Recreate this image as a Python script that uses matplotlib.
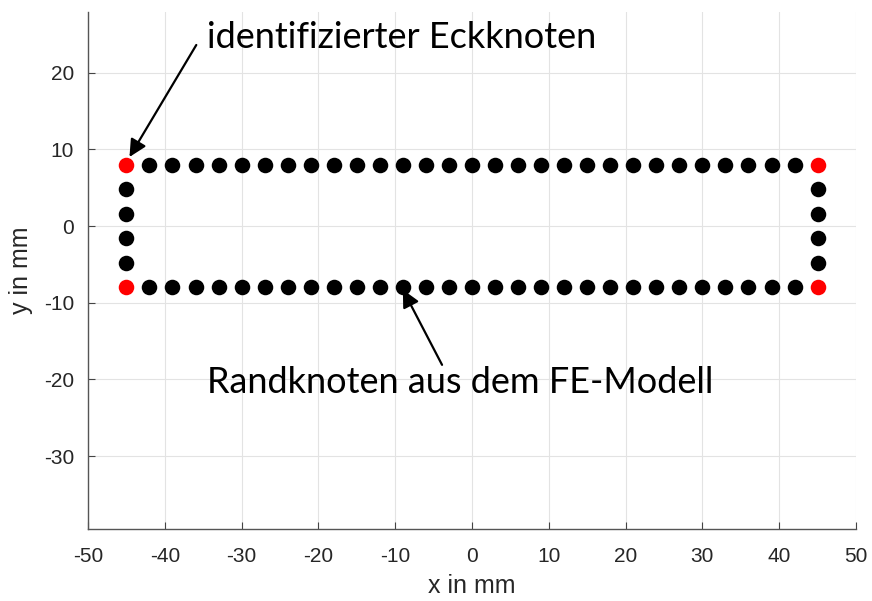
import matplotlib.pyplot as plt

plt.rcParams['axes.unicode_minus'] = False

# boundary nodes of the FE model (mm)
edge_x = [-42, -39, -36, -33, -30, -27, -24, -21, -18, -15, -12, -9, -6, -3, 0,
          3, 6, 9, 12, 15, 18, 21, 24, 27, 30, 33, 36, 39, 42]
side_y = [4.8, 1.6, -1.6, -4.8]
top_y = 8
bottom_y = -8
side_x = [-45, 45]

# identified corner nodes
corner_x = [-45, -45, 45, 45]
corner_y = [8, -8, 8, -8]

xticks = [-50, -40, -30, -20, -10, 0, 10, 20, 30, 40, 50]
yticks = [-30, -20, -10, 0, 10, 20]

fig = plt.figure(figsize=(8.72, 6.01), dpi=100)
ax = fig.add_axes([88/872, 72/601, 768/872, 517/601])

dark = '#262626'
dot = 125

# black boundary nodes
bx = edge_x + edge_x
by = [top_y] * len(edge_x) + [bottom_y] * len(edge_x)
for sx in side_x:
    bx += [sx] * len(side_y)
    by += side_y
ax.scatter(bx, by, s=dot, color='black', zorder=3, linewidths=0)
ax.scatter(corner_x, corner_y, s=dot, color='red', zorder=3, linewidths=0)

ax.set_xlim(-50, 50)
ax.set_ylim(-39.5, 27.9)
ax.set_xticks(xticks)
ax.set_yticks(yticks)
ax.grid(True, color='#e3e3e3', linewidth=0.8)
ax.set_axisbelow(True)

for s in ['top', 'right']:
    ax.spines[s].set_visible(False)
for s in ['left', 'bottom']:
    ax.spines[s].set_color('#555555')
    ax.spines[s].set_linewidth(1.0)

ax.tick_params(direction='in', length=5, width=0.8, color='#444444',
               labelcolor=dark, labelsize=15)
ax.tick_params(axis='x', pad=13)
ax.tick_params(axis='y', pad=10)
for lab in ax.get_xticklabels() + ax.get_yticklabels():
    lab.set_family('Liberation Sans')

ax.set_xlabel('x in mm', fontsize=18, color=dark, family='Liberation Sans', labelpad=6)
ax.set_ylabel('y in mm', fontsize=18, color=dark, family='Liberation Sans', labelpad=8)

arrow = dict(arrowstyle='-|>', color='black', lw=1.6, mutation_scale=26,
             shrinkA=0, shrinkB=0)
ax.annotate('', xy=(-44.6, 9.0), xytext=(-35.9, 23.6), arrowprops=arrow)
ax.text(-34.5, 24.6, 'identifizierter Eckknoten', fontsize=26, family='Lato',
        ha='left', va='center', color='black')

ax.annotate('', xy=(-9.0, -8.3), xytext=(-3.9, -18.1), arrowprops=arrow)
ax.text(-34.5, -20.4, 'Randknoten aus dem FE-Modell', fontsize=26, family='Lato',
        ha='left', va='center', color='black')

fig.savefig('out.png', dpi=100, facecolor='white')
